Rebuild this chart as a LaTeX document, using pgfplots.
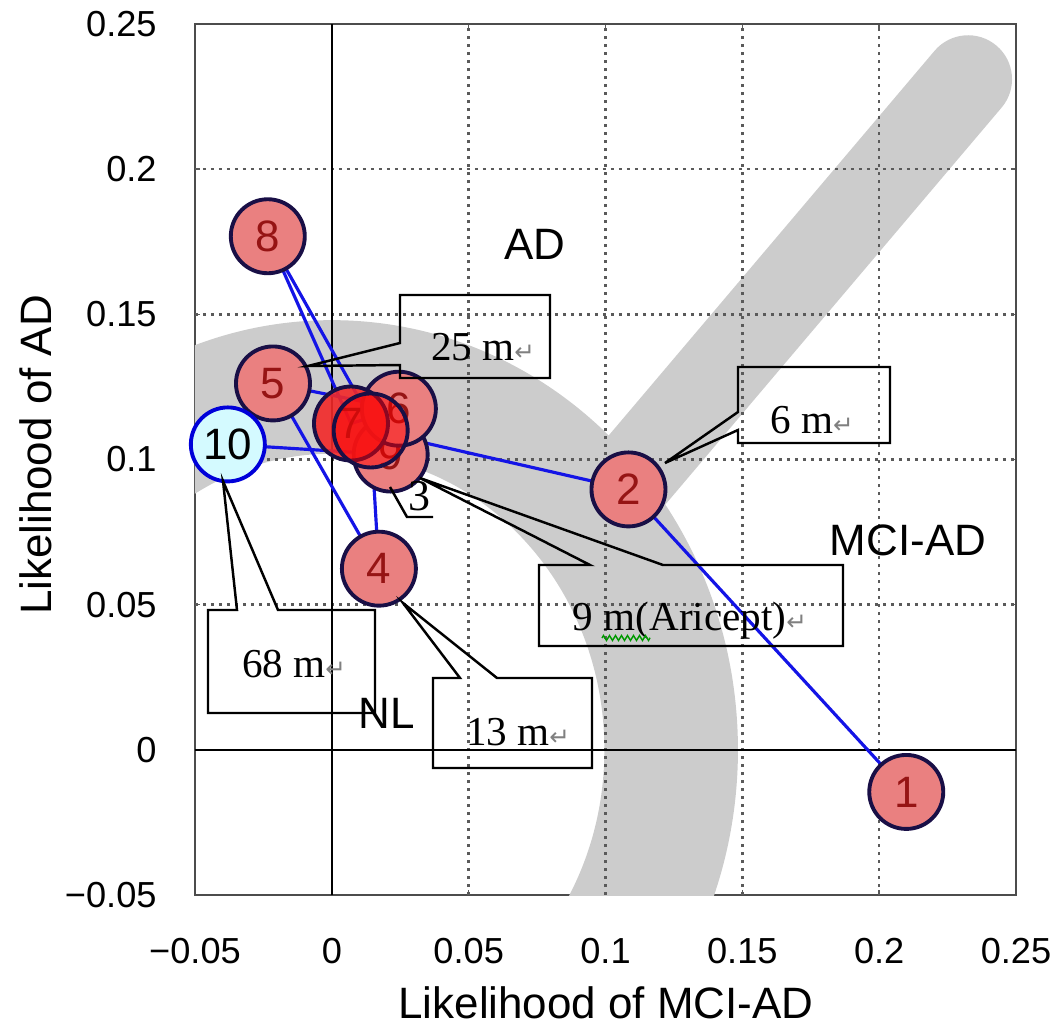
\documentclass[border=0pt]{standalone}
\usepackage{pgfplots}
\pgfplotsset{compat=1.18}
\usepackage{fontspec}
\setmainfont{Liberation Serif}
\newfontfamily\sansf{Liberation Sans}
\newfontfamily\dejavu{DejaVu Sans}
\usetikzlibrary{decorations.pathmorphing}
\definecolor{band}{RGB}{204,204,204}
\definecolor{salmon}{RGB}{234,128,128}
\definecolor{brightred}{RGB}{242,40,40}
\definecolor{edge}{RGB}{25,15,70}
\definecolor{lab}{RGB}{150,20,20}
\definecolor{cyanfill}{RGB}{212,250,255}
\definecolor{linkblue}{RGB}{20,20,230}
\definecolor{gridc}{RGB}{90,90,90}
\newcommand\ret{{\dejavu\fontsize{7}{8}\selectfont\textcolor{gray}{↵}}}
\pgfplotsset{
  pt/.style={only marks, mark=*, mark size=3.7mm, point meta=explicit symbolic,
    nodes near coords,
    every node near coord/.append style={anchor=center, inner sep=0pt,
      font=\sansf\fontsize{12.5}{13}\selectfont, text=lab}},
}
\begin{document}
\begin{tikzpicture}
\path[use as bounding box] (-19.5mm,-13.2mm) rectangle (86.4mm,89.5mm);
\begin{axis}[
  at={(0,0)}, anchor=south west,
  scale only axis, width=82.1mm, height=87.1mm,
  xmin=-0.05, xmax=0.25, ymin=-0.05, ymax=0.25,
  xtick={-0.05,0,0.05,0.1,0.15,0.2,0.25},
  xticklabels={−0.05,0,0.05,0.1,0.15,0.2,0.25},
  ytick={-0.05,0,0.05,0.1,0.15,0.2,0.25},
  yticklabels={−0.05,0,0.05,0.1,0.15,0.2,0.25},
  tick align=inside, major tick length=0.5mm,
  tick style={gridc, line width=0.4pt},
  axis line style={draw=gray!60!black, line width=0.6pt},
  ticklabel style={font=\sansf\fontsize{10.3}{12}\selectfont},
  xticklabel style={yshift=-3.1mm},
  yticklabel style={xshift=-2.6mm},
  xlabel={Likelihood of MCI-AD},
  ylabel={Likelihood of AD},
  label style={font=\sansf\fontsize{12.5}{14}\selectfont},
  xlabel style={at={(axis description cs:0.5006,-0.1240)}, anchor=center},
  ylabel style={at={(axis description cs:-0.1937,0.5052)}, anchor=center},
]
% gray regions
\draw[band, line width=38pt] (axis cs:-0.124,0) .. controls (axis cs:-0.124,0.069) and (axis cs:-0.0685,0.125) .. (axis cs:0,0.125)
  .. controls (axis cs:0.0685,0.125) and (axis cs:0.124,0.069) .. (axis cs:0.124,0)
  .. controls (axis cs:0.124,-0.069) and (axis cs:0.0685,-0.125) .. (axis cs:0,-0.125);
\draw[band, line width=25pt, line cap=round] (axis cs:0.095,0.078) -- (axis cs:0.2325,0.231);
% grid
\tikzset{gl/.style={gridc, line width=0.7pt, dash pattern=on 0.35mm off 0.45mm}}
\draw[gl] (axis cs:0.05,-0.05) -- (axis cs:0.05,0.25);
\draw[gl] (axis cs:0.1,-0.05) -- (axis cs:0.1,0.25);
\draw[gl] (axis cs:0.15,-0.05) -- (axis cs:0.15,0.25);
\draw[gl] (axis cs:0.2,-0.05) -- (axis cs:0.2,0.25);
\draw[gl] (axis cs:-0.05,0.05) -- (axis cs:0.25,0.05);
\draw[gl] (axis cs:-0.05,0.1) -- (axis cs:0.25,0.1);
\draw[gl] (axis cs:-0.05,0.15) -- (axis cs:0.25,0.15);
\draw[gl] (axis cs:-0.05,0.2) -- (axis cs:0.25,0.2);
\draw[black, line width=0.45pt] (axis cs:0,-0.05) -- (axis cs:0,0.25);
\draw[black, line width=0.45pt] (axis cs:-0.05,0) -- (axis cs:0.25,0);
% trajectory
\addplot[linkblue, line width=0.9pt, mark=none] coordinates {
 (0.2099,-0.0145) (0.1084,0.0897) (0.0142,0.1100) (0.0172,0.0624) (-0.0215,0.1262)
 (0.0245,0.1175) (0.0070,0.1124) (-0.0234,0.1769) (0.0215,0.1017) (-0.0380,0.1052)};
% markers
\addplot[pt, color=edge, mark options={fill=salmon, draw=edge, line width=1.1pt}] coordinates {
 (0.2099,-0.0145) [1] (0.1084,0.0897) [2] (0.0172,0.0624) [4] (-0.0215,0.1262) [5]
 (-0.0234,0.1769) [8] (0.0215,0.1017) [9]};
\addplot[pt, color=edge, mark options={fill=salmon, draw=edge, line width=1.1pt}] coordinates {
 (0.0245,0.1175) [6]};
\addplot[pt, color=edge, mark options={fill=brightred, fill opacity=0.9, draw=edge, line width=1.1pt}] coordinates {
 (0.0070,0.1124) [7]};
\addplot[only marks, mark=*, mark size=3.7mm, color=edge, mark options={fill=red, fill opacity=0.5, draw=edge, line width=1.1pt}] coordinates {
 (0.0142,0.1100)};
\addplot[pt, color=blue, mark options={fill=cyanfill, draw=blue!85!black, line width=1.1pt},
  every node near coord/.append style={text=black}] coordinates {
 (-0.0380,0.1052) [10]};
\end{axis}
\begin{scope}[x=0.1mm, y=-0.1mm, shift={(-19.5mm,89.5mm)}]
\tikzset{co/.style={black, line width=0.7pt, line join=miter}}
% 25 m
\draw[co] (400,295) -- (550,295) -- (550,378) -- (400,378) -- (400,365) -- (308,366) -- (400,343) -- cycle;
\node[anchor=base, inner sep=0pt, font=\fontsize{11.7}{13}\selectfont] at (483,360) {25 m\ret};
% 6 m
\draw[co] (738,367) -- (890,367) -- (890,443) -- (738,443) -- (738,430) -- (665,463) -- (738,412) -- cycle;
\node[anchor=base, inner sep=0pt, font=\fontsize{11.7}{13}\selectfont] at (812,433) {6 m\ret};
% 9 m
\draw[co] (539,565) -- (590,565) -- (420,478) -- (663,565) -- (843,565) -- (843,646) -- (539,646) -- cycle;
\node[anchor=base, inner sep=0pt, font=\fontsize{11.7}{13}\selectfont] at (690,630) {9 m(Aricept)\ret};
\draw[green!60!black, line width=0.4pt, decorate, decoration={zigzag, amplitude=0.25mm, segment length=0.6mm}] (602,638) -- (650,638);
% 68 m
\draw[co] (208,610) -- (237,610) -- (223,481) -- (278,610) -- (375,610) -- (375,713) -- (208,713) -- cycle;
\node[anchor=base, inner sep=0pt, font=\fontsize{11.7}{13}\selectfont] at (294,677) {68 m\ret};
% 13 m
\draw[co] (433,678) -- (460,678) -- (403,603) -- (497,678) -- (592,678) -- (592,768) -- (433,768) -- cycle;
\node[anchor=base, inner sep=0pt, font=\fontsize{11.7}{13}\selectfont] at (518,745) {13 m\ret};
% label 3
\node[anchor=base, inner sep=0pt, font=\fontsize{12.5}{13}\selectfont] at (419,510) {3};
\draw[co] (390,487) -- (407,517) -- (433,517);
% region labels
\node[anchor=base, inner sep=0pt, font=\sansf\fontsize{12.5}{13}\selectfont] at (535,260) {AD};
\node[anchor=base, inner sep=0pt, font=\sansf\fontsize{12.5}{13}\selectfont] at (908,555) {MCI-AD};
\node[anchor=base, inner sep=0pt, font=\sansf\fontsize{12.5}{13}\selectfont] at (387,728) {NL};
\end{scope}
\end{tikzpicture}
\end{document}
